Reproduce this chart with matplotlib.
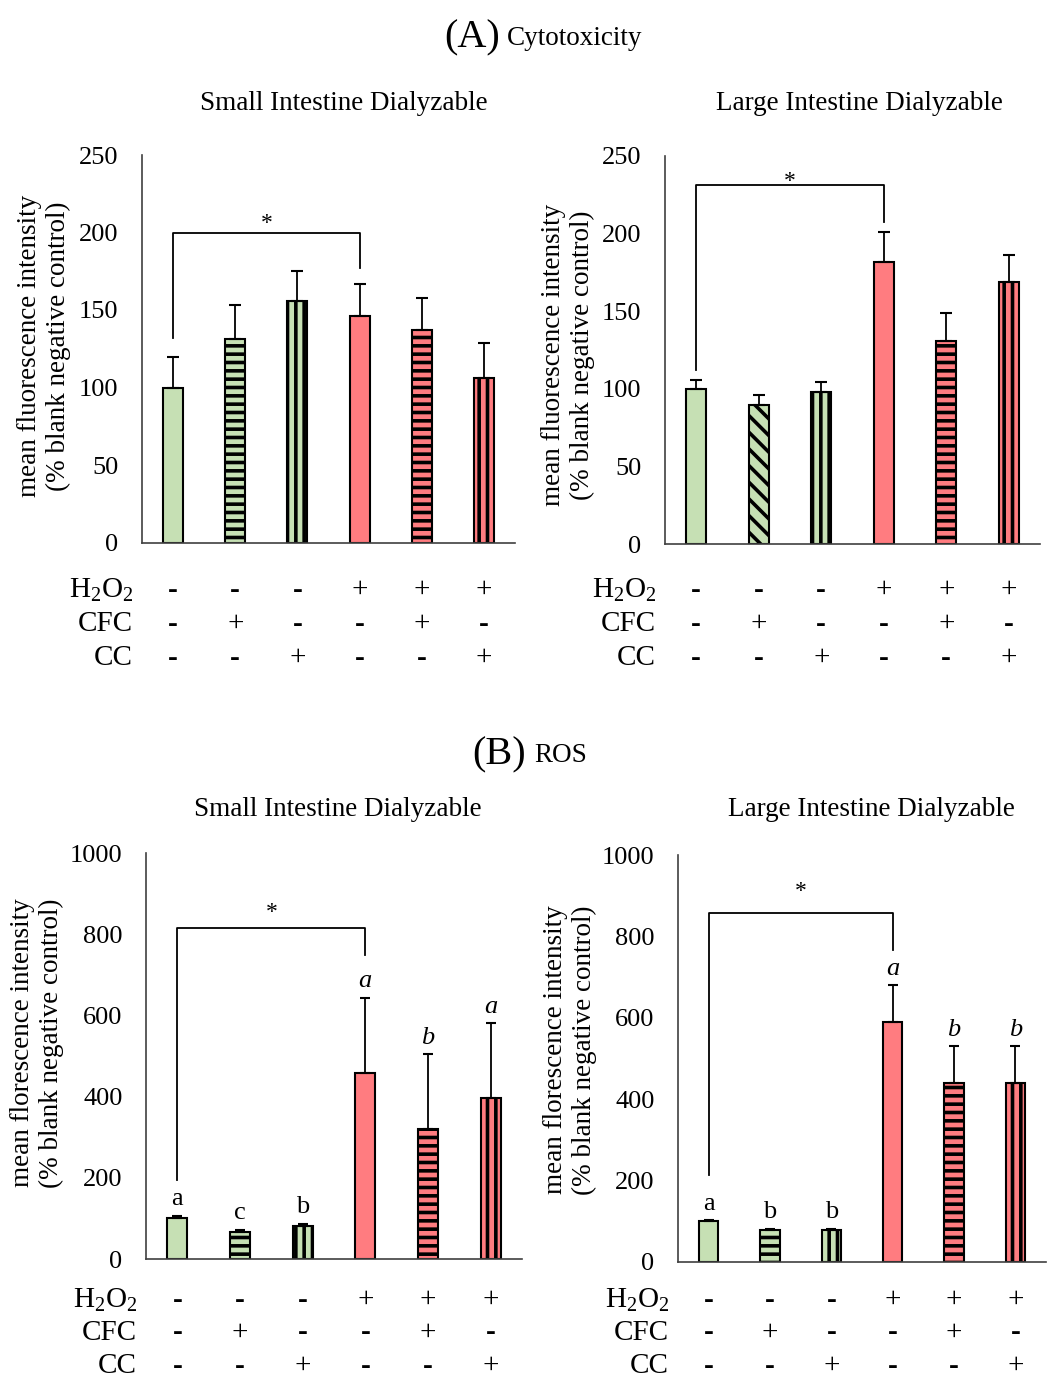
import matplotlib
matplotlib.use("Agg")
import matplotlib.pyplot as plt
from matplotlib.transforms import blended_transform_factory

plt.rcParams['font.family'] = ['Liberation Serif', 'DejaVu Serif']
plt.rcParams['mathtext.fontset'] = 'custom'
plt.rcParams['mathtext.rm'] = 'Liberation Serif'
plt.rcParams['hatch.linewidth'] = 2.6
plt.rcParams['hatch.color'] = 'black'

GREEN = '#C6E0B4'
RED = '#FF7C80'

# treatments (- / +) for the 6 bars
h2o2 = ['-', '-', '-', '+', '+', '+']
cfc = ['-', '+', '-', '-', '+', '-']
cc = ['-', '-', '+', '-', '-', '+']
bar_colors = [GREEN, GREEN, GREEN, RED, RED, RED]

# (A) cytotoxicity
cyto_si_mean = [100, 131, 156, 146, 137, 106]
cyto_si_sd = [20, 22, 19, 21, 21, 23]
cyto_li_mean = [100, 90, 98, 182, 131, 169]
cyto_li_sd = [6, 6, 6.5, 19, 18, 17.5]

# (B) ROS
ros_si_mean = [100, 66, 82, 458, 319, 397]
ros_si_sd = [6, 6, 5, 185, 185, 184]
ros_li_mean = [100, 79, 79, 589, 440, 440]
ros_li_sd = [2, 2, 2, 91, 90, 90]

ros_si_letters = ['a', 'c', 'b', 'a', 'b', 'a']
ros_li_letters = ['a', 'b', 'b', 'a', 'b', 'b']

hatch_std = [None, '--', '||', None, '--', '||']
hatch_li_cyto = [None, '\\\\', '||', None, '--', '||']

# bracket: (left leg bottom, top, right leg bottom, asterisk height)
cyto_si_bracket = (132, 200, 177, 209)
cyto_li_bracket = (112, 231.5, 207.6, 236.7)
ros_si_bracket = (195, 815, 749, 864)
ros_li_bracket = (213, 857, 766, 921)

W, H = 1048, 1379
fig = plt.figure(figsize=(W / 100, H / 100), dpi=100)


def px_ax(x0, x1, ytop, ybot):
    return fig.add_axes([x0 / W, 1 - ybot / H, (x1 - x0) / W, (ybot - ytop) / H])


def panel(ax, means, sds, hatches, ymax, ystep, bracket, letters, row_y, row_gap, title,
          title_xy, ylab_x, ylab_y, ylab_text, capsize):
    x = list(range(6))
    ax.bar(x, means, width=0.32, color=bar_colors, edgecolor='black',
           linewidth=1.5, hatch=hatches, zorder=2)
    ax.errorbar(x, means, yerr=[[0] * 6, sds], fmt='none', ecolor='black',
                elinewidth=1.3, capsize=capsize, capthick=1.5, zorder=3)
    ax.set_xlim(-0.5, 5.5)
    ax.set_ylim(0, ymax)
    ax.set_yticks(range(0, ymax + 1, ystep))
    ax.set_xticks([])
    ax.tick_params(axis='y', length=0, pad=17, labelsize=19)
    for s in ['top', 'right']:
        ax.spines[s].set_visible(False)
    for s in ['left', 'bottom']:
        ax.spines[s].set_color('#404040')
        ax.spines[s].set_linewidth(1.2)

    yl, yh, yr, ystar = bracket
    ax.plot([0, 0, 3, 3], [yl, yh, yh, yr], color='black', lw=1.3, clip_on=False, zorder=4)
    ax.annotate('*', xy=(1.5, ystar), xytext=(0, -10.8), textcoords='offset points',
                ha='center', va='bottom', fontsize=17)

    if letters:
        for i, lt in enumerate(letters):
            ax.annotate(lt, xy=(i, means[i] + sds[i]), xytext=(0, 4),
                        textcoords='offset points', ha='center', va='bottom',
                        fontsize=19, style='italic' if i >= 3 else 'normal')

    # treatment table under the axes
    tr = blended_transform_factory(ax.transData, fig.transFigure)
    x0_px = ax.get_position().x0 * W
    names = [r'$\mathrm{H_2O_2}$', 'CFC', 'CC']
    for row, (name, signs) in enumerate(zip(names, [h2o2, cfc, cc])):
        yy = 1 - (row_y + row * row_gap) / H
        fig.text((x0_px - 9) / W, yy, name, ha='right', va='center', fontsize=21)
        for i, sgn in enumerate(signs):
            ax.text(i, yy, sgn, transform=tr, ha='center', va='center',
                    fontsize=21, fontweight='bold' if sgn == '-' else 'normal')

    fig.text(title_xy[0] / W, 1 - title_xy[1] / H, title, ha='center', va='center', fontsize=19.5)
    fig.text(ylab_x / W, 1 - ylab_y / H, ylab_text, rotation=90, ha='center', va='center',
             fontsize=19.5, multialignment='center', linespacing=1.2)


ax1 = px_ax(142, 515, 155, 542.5)
panel(ax1, cyto_si_mean, cyto_si_sd, hatch_std, 250, 50, cyto_si_bracket, None, 590, 34,
      'Small Intestine Dialyzable', (344, 104), 44, 346,
      'mean fluorescence intensity\n(% blank negative control)', 4.5)

ax2 = px_ax(665, 1040, 156, 544.3)
panel(ax2, cyto_li_mean, cyto_li_sd, hatch_li_cyto, 250, 50, cyto_li_bracket, None, 590, 34,
      'Large Intestine Dialyzable', (859, 104), 568, 355,
      'mean fluorescence intensity\n(% blank negative control)', 4.5)

ax3 = px_ax(146, 522, 853, 1259)
panel(ax3, ros_si_mean, ros_si_sd, hatch_std, 1000, 200, ros_si_bracket, ros_si_letters,
      1300, 33, 'Small Intestine Dialyzable', (338, 809), 37, 1043,
      'mean florescence intensity\n(% blank negative control)', 3.5)

ax4 = px_ax(678, 1046, 855, 1261.7)
panel(ax4, ros_li_mean, ros_li_sd, hatch_std, 1000, 200, ros_li_bracket, ros_li_letters,
      1300, 33, 'Large Intestine Dialyzable', (871, 809), 570, 1050,
      'mean florescence intensity\n(% blank negative control)', 3.5)

# section headings
fig.text(500 / W, 1 - 47 / H, '(A)', ha='right', va='baseline', fontsize=29)
fig.text(507 / W, 1 - 45 / H, 'Cytotoxicity', ha='left', va='baseline', fontsize=19.5)
fig.text(526 / W, 1 - 764 / H, '(B)', ha='right', va='baseline', fontsize=29)
fig.text(534 / W, 1 - 762 / H, 'ROS', ha='left', va='baseline', fontsize=19.5)

fig.savefig('out.png', dpi=100)
